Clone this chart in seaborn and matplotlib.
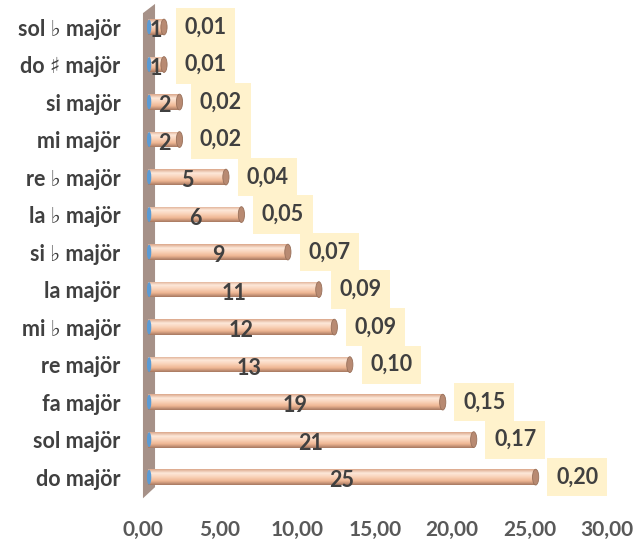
import numpy as np
import pandas as pd
import matplotlib
matplotlib.use("Agg")
import matplotlib.pyplot as plt
import seaborn as sb
from matplotlib.patches import Ellipse, Polygon
from matplotlib.colors import LinearSegmentedColormap
from matplotlib.ticker import FuncFormatter
from matplotlib.transforms import offset_copy

# data
keys = ['sol \u266d majör', 'do \u266f majör', 'si majör', 'mi majör', 're \u266d majör',
        'la \u266d majör', 'si \u266d majör', 'la majör', 'mi \u266d majör', 're majör',
        'fa majör', 'sol majör', 'do majör']
counts = [1, 1, 2, 2, 5, 6, 9, 11, 12, 13, 19, 21, 25]
shares = ['0,01', '0,01', '0,02', '0,02', '0,04', '0,05', '0,07', '0,09', '0,09', '0,10',
          '0,15', '0,17', '0,20']
xticks = [0, 5, 10, 15, 20, 25, 30]

df = pd.DataFrame({'key': keys, 'count': counts})

sb.set_style('white')
plt.rcParams['font.family'] = ['Lato', 'DejaVu Sans']
plt.rcParams['font.weight'] = 'bold'
txt = '#404040'

fig = plt.figure(figsize=(6.35, 5.51), dpi=100)
ax = fig.add_axes([0.2244, 0.100, 0.7316, 0.885])

sb.barplot(data=df, y='key', x='count', order=keys, orient='h', color='#f4c2a1',
           width=0.42, linewidth=0, ax=ax, zorder=2)

# bars sit a bit to the right of the axis zero (3D depth)
shift = offset_copy(ax.transData, fig=fig, x=6, y=0, units='dots')

# cylinder look: gradient clipped to each bar, caps at both ends
cyl = LinearSegmentedColormap.from_list('cyl', ['#dba78a', '#fde8da', '#f9d2b8', '#eeb592', '#a67861'])
grad = np.linspace(0, 1, 64).reshape(-1, 1)
for p, n in zip(ax.patches, counts):
    p.set_transform(shift)
    x0, y0, w, h = p.get_x(), p.get_y(), p.get_width(), p.get_height()
    im = ax.imshow(grad, cmap=cyl, extent=(x0, x0 + w, y0 + h, y0), origin='upper',
                   aspect='auto', zorder=3)
    im.set_transform(shift)
    im.set_clip_path(p)
    ax.add_patch(Ellipse((x0 + w, y0 + h / 2), 0.4, h, facecolor='#b88a72',
                         edgecolor='#98705a', lw=0.6, zorder=4, transform=shift))
    ax.add_patch(Ellipse((x0 + 0.04, y0 + h / 2), 0.28, h * 0.95, facecolor='#5b9bd5',
                         edgecolor='none', zorder=4, transform=shift))
    ax.text(x0 + w / 2, y0 + h / 2 + 0.1, str(n), ha='center', va='center',
            fontsize=15.5, fontweight='bold', color=txt, zorder=6, transform=shift)

for i, (n, s) in enumerate(zip(counts, shares)):
    ax.annotate(s, (n, i), xytext=(19, 0), textcoords='offset points',
                ha='left', va='center', fontsize=15.5, fontweight='bold', color=txt,
                bbox=dict(boxstyle='square,pad=0.4', fc='#fff2cc', ec='none'), zorder=5)

ax.set_xlim(0, 30)
ax.set_ylim(12.5, -0.5)
ax.set_xticks(xticks)
ax.xaxis.set_major_formatter(FuncFormatter(lambda v, pos: f'{v:.2f}'.replace('.', ',')))
ax.set_xlabel('')
ax.set_ylabel('')
ax.tick_params(axis='both', length=0, labelcolor=txt)
ax.tick_params(axis='x', pad=17, labelsize=15, labelcolor='#595959')
ax.tick_params(axis='y', pad=16, labelsize=15.5)
for lab in ax.get_xticklabels() + ax.get_yticklabels():
    lab.set_fontweight('bold')
for sp in ax.spines.values():
    sp.set_visible(False)

# back wall of the 3D chart
wall = Polygon([(0.001, -0.005), (0.027, 0.018), (0.027, 1.009), (0.001, 0.990)],
               closed=True, transform=ax.transAxes, clip_on=False,
               facecolor='#a69188', edgecolor='none', zorder=1)
ax.add_patch(wall)

fig.savefig('out.png', dpi=100)
